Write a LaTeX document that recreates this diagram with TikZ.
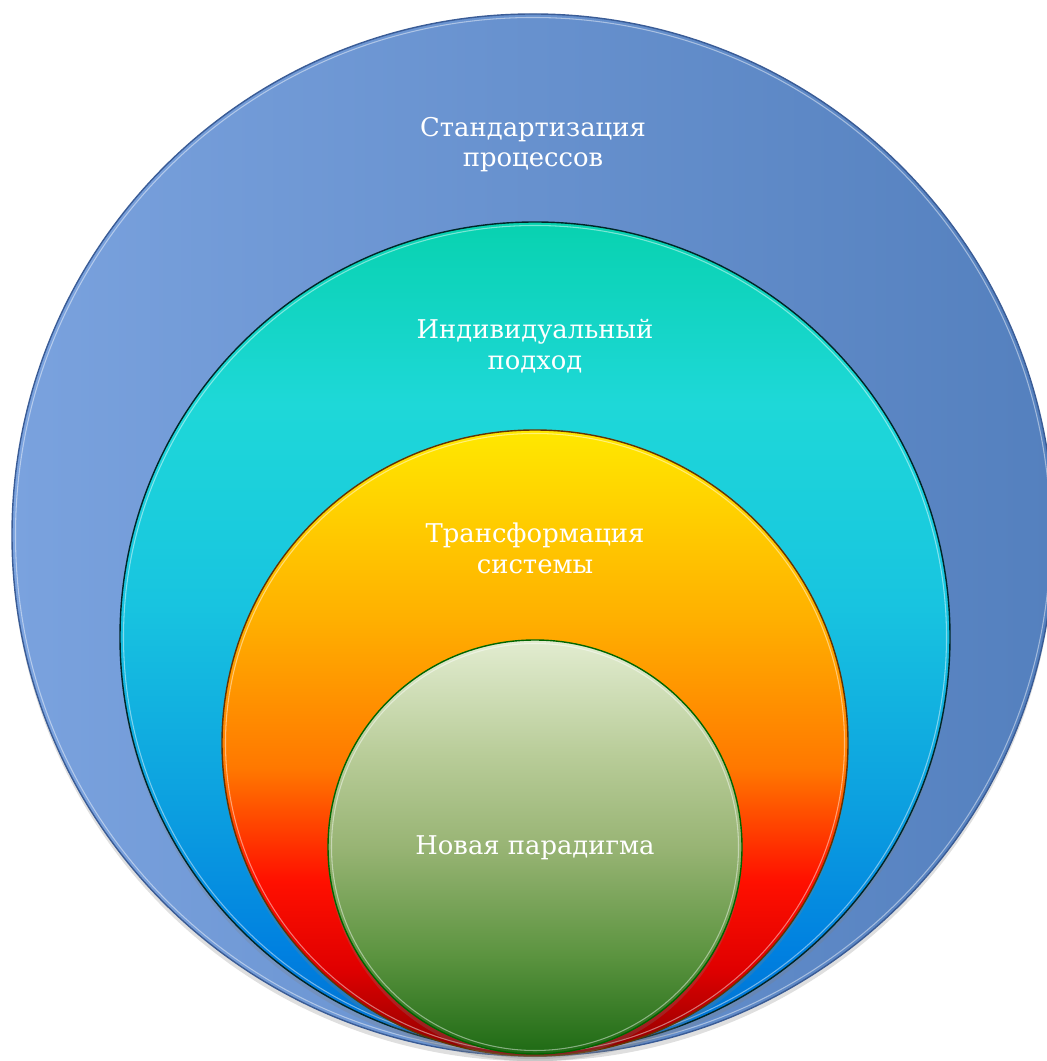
\documentclass[tikz,border=0pt]{standalone}
\usepackage{fontspec}
\setmainfont{DejaVu Serif}
\usepackage{tikz}
\usetikzlibrary{shadows}
\usepackage{xcolor}

\definecolor{outerLight}{RGB}{122,162,222}
\definecolor{outerDark}{RGB}{84,128,190}
\definecolor{outerLine}{RGB}{58,92,150}

% vertical shadings: the path box is the middle 25bp..75bp
\pgfdeclareverticalshading{tealshade}{100bp}{
    color(0bp)=(rgb,255:red,0;green,112;blue,208);
    color(25bp)=(rgb,255:red,0;green,112;blue,208);
    color(31bp)=(rgb,255:red,0;green,128;blue,224);
    color(40bp)=(rgb,255:red,12;green,160;blue,224);
    color(52bp)=(rgb,255:red,24;green,196;blue,224);
    color(64bp)=(rgb,255:red,30;green,216;blue,216);
    color(75bp)=(rgb,255:red,8;green,210;blue,176);
    color(100bp)=(rgb,255:red,8;green,210;blue,176)}
\pgfdeclareverticalshading{sunshade}{100bp}{
    color(0bp)=(rgb,255:red,140;green,0;blue,0);
    color(25bp)=(rgb,255:red,140;green,0;blue,0);
    color(32bp)=(rgb,255:red,224;green,0;blue,0);
    color(39bp)=(rgb,255:red,255;green,16;blue,0);
    color(48bp)=(rgb,255:red,255;green,120;blue,0);
    color(60bp)=(rgb,255:red,255;green,176;blue,0);
    color(75bp)=(rgb,255:red,255;green,232;blue,0);
    color(100bp)=(rgb,255:red,255;green,232;blue,0)}
\pgfdeclareverticalshading{leafshade}{100bp}{
    color(0bp)=(rgb,255:red,30;green,106;blue,20);
    color(25bp)=(rgb,255:red,30;green,106;blue,20);
    color(37bp)=(rgb,255:red,92;green,148;blue,64);
    color(50bp)=(rgb,255:red,152;green,180;blue,116);
    color(61bp)=(rgb,255:red,184;green,204;blue,152);
    color(75bp)=(rgb,255:red,226;green,236;blue,208);
    color(100bp)=(rgb,255:red,226;green,236;blue,208)}

\tikzset{
    ring/.style={line width=0.8pt, drop shadow={opacity=0.25,shadow xshift=0pt,shadow yshift=-3pt}},
    gleam/.style={white, opacity=0.45, line width=0.6pt},
    label/.style={align=center, text=white, font=\fontsize{14.7}{17.5}\selectfont}
}

\begin{document}
\begin{tikzpicture}
    \useasboundingbox (0,0) rectangle (20.94,21.22);
    % Draw outer circle
    \draw[ring, draw=outerLine, left color=outerLight, right color=outerDark] (10.66,10.52) circle (10.42);
    \draw[gleam] (10.66,10.52) circle (10.35);
    % Draw second circle
    \draw[ring, draw=black!70!teal, shading=tealshade] (10.70,8.48) circle (8.30);
    \draw[gleam] (10.70,8.48) circle (8.23);
    % Draw third circle
    \draw[ring, draw=black!60!orange, shading=sunshade] (10.70,6.36) circle (6.26);
    \draw[gleam] (10.70,6.36) circle (6.19);
    % Draw inner circle
    \draw[ring, draw=black!60!green, shading=leafshade] (10.70,4.28) circle (4.14);
    \draw[gleam] (10.70,4.28) circle (4.07);
    % Draw texts
    \node[label] (standard) at (10.66,18.33) {Стандартизация\\процессов};
    \node[label] (individual) at (10.70,14.29) {Индивидуальный\\подход};
    \node[label] (transform) at (10.70,10.25) {Трансформация\\системы};
    \node[label] (paradigm) at (10.70,4.26) {Новая парадигма};
\end{tikzpicture}
\end{document}
